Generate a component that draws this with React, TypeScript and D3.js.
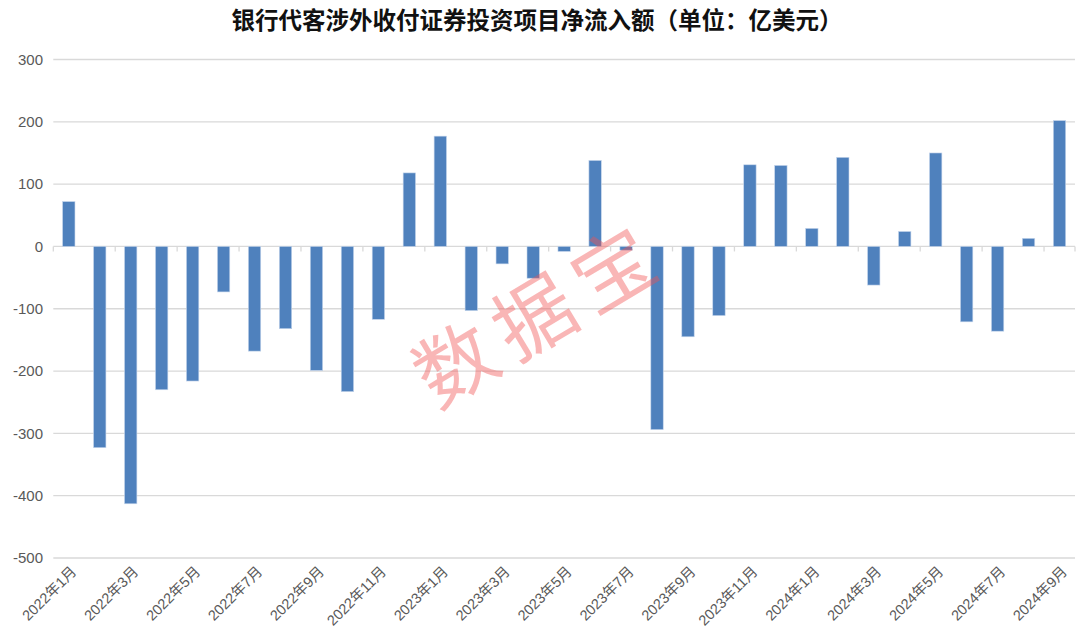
import React from "react";
import * as d3 from "d3";

const title = "银行代客涉外收付证券投资项目净流入额（单位：亿美元）";
const months = [
  "2022年1月","2022年2月","2022年3月","2022年4月","2022年5月","2022年6月","2022年7月","2022年8月","2022年9月","2022年10月","2022年11月","2022年12月",
  "2023年1月","2023年2月","2023年3月","2023年4月","2023年5月","2023年6月","2023年7月","2023年8月","2023年9月","2023年10月","2023年11月","2023年12月",
  "2024年1月","2024年2月","2024年3月","2024年4月","2024年5月","2024年6月","2024年7月","2024年8月","2024年9月",
];
const values = [
  72, -323, -413, -230, -216, -73, -168, -132, -199, -233, -117, 118,
  177, -103, -28, -51, -8, 138, -6, -294, -145, -111, 131, 130,
  29, 143, -62, 24, 150, -121, -136, 13, 202,
];
const yTicks = [300, 200, 100, 0, -100, -200, -300, -400, -500];
const watermark = "数据宝";

const W = 1080, H = 635;
const left = 53.3, right = 1075, top = 59.5, bottom = 558;

export default function App() {
  const x = d3.scaleBand<string>().domain(months).range([left, right]).paddingInner(0.6).paddingOuter(0.3);
  const xb = d3.scaleBand<string>().domain(months).range([left, right]);
  const y = d3.scaleLinear().domain([-500, 300]).range([bottom, top]);
  const font = "Arial, 'Liberation Sans', 'Noto Sans CJK SC', sans-serif";
  return (
    <svg width={W} height={H} style={{ position: "absolute", left: 0, top: 0, background: "#fff" }}>
      <text x={537} y={29} textAnchor="middle" fontSize={23.5} fontWeight="bold" fill="#111"
        fontFamily="'Noto Sans CJK SC', sans-serif">{title}</text>
      {yTicks.map((t) => (
        <g key={t}>
          <line x1={left} x2={right} y1={y(t)} y2={y(t)} stroke="#d9d9d9" strokeWidth={1.3} />
          <text x={43} y={y(t)} dy="0.35em" textAnchor="end" fontSize={15} fill="#595959" fontFamily={font}>{t}</text>
        </g>
      ))}
      {months.map((m, i) => i % 2 === 0 ? (
        <line key={"tk" + m} x1={xb(m)!} x2={xb(m)!} y1={y(0)} y2={y(0) + 5} stroke="#d9d9d9" strokeWidth={1.3} />
      ) : null)}
      <line x1={right} x2={right} y1={y(0)} y2={y(0) + 5} stroke="#d9d9d9" strokeWidth={1.3} />
      {values.map((v, i) => (
        <rect key={months[i]} x={x(months[i])!} width={x.bandwidth()}
          y={y(Math.max(0, v))} height={Math.abs(y(v) - y(0))}
          fill="#4f81bd" stroke="#c6d6ec" strokeWidth={0.6} />
      ))}
      {months.map((m, i) => i % 2 === 0 ? (
        <text key={"lb" + m} transform={`translate(${xb(m)! + xb.bandwidth() / 2 + 5},${569}) rotate(-45)`}
          textAnchor="end" dy="0.35em" fontSize={14.5} fill="#595959" fontFamily={font}>{m}</text>
      ) : null)}
      <text transform="translate(540,315) rotate(-31)" textAnchor="middle" dy="0.35em" fontSize={80}
        letterSpacing={12} fill="#f05050" fillOpacity={0.42} fontFamily="'Noto Sans CJK SC', sans-serif">{watermark}</text>
    </svg>
  );
}
